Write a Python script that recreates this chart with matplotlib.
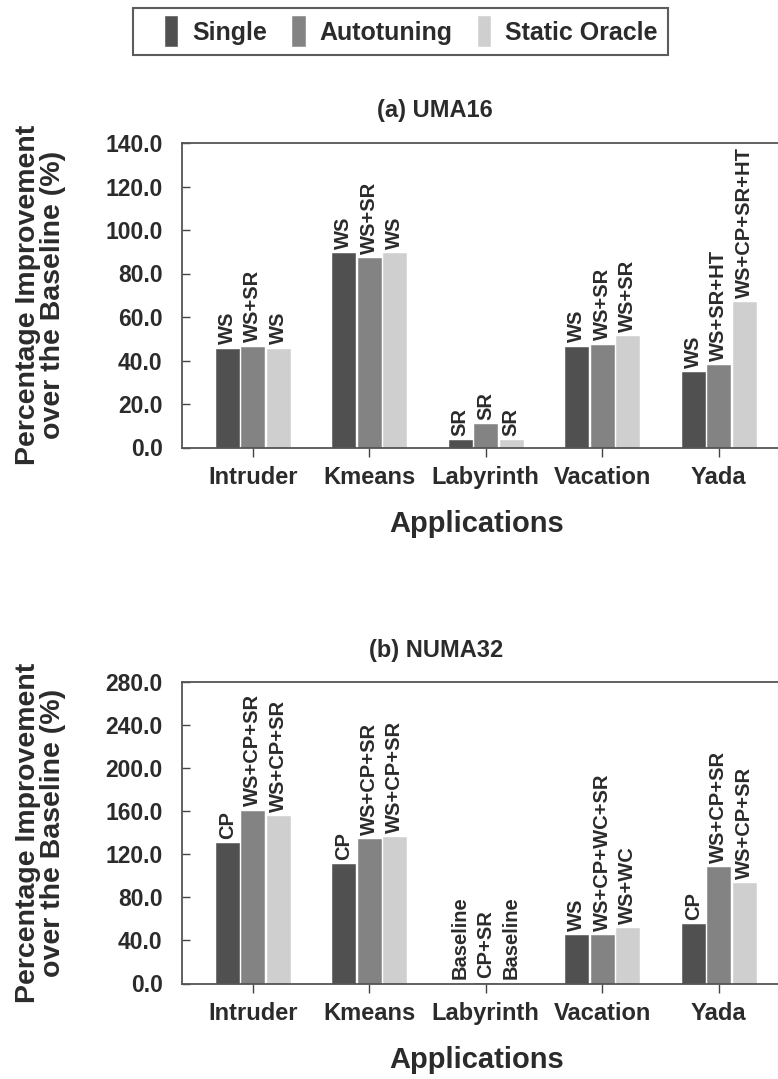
import matplotlib
matplotlib.use("Agg")
import matplotlib.pyplot as plt
from matplotlib.patches import Rectangle
from matplotlib.legend_handler import HandlerPatch
import numpy as np

apps = ["Intruder", "Kmeans", "Labyrinth", "Vacation", "Yada"]
series = ["Single", "Autotuning", "Static Oracle"]

# (a) UMA16
uma_single = [45.5, 89.2, 3.5, 46.4, 34.8]
uma_auto = [46.4, 87.2, 10.6, 47.3, 37.8]
uma_static = [45.5, 89.2, 3.5, 51.4, 66.8]
uma_single_lbl = ["WS", "WS", "SR", "WS", "WS"]
uma_auto_lbl = ["WS+SR", "WS+SR", "SR", "WS+SR", "WS+SR+HT"]
uma_static_lbl = ["WS", "WS", "SR", "WS+SR", "WS+CP+SR+HT"]

# (b) NUMA32
numa_single = [130.7, 110.7, 0.0, 45.3, 55.5]
numa_auto = [160.6, 133.8, 0.8, 45.3, 108.5]
numa_static = [155.4, 135.7, 0.0, 51.8, 93.1]
numa_single_lbl = ["CP", "CP", "Baseline", "WS", "CP"]
numa_auto_lbl = ["WS+CP+SR", "WS+CP+SR", "CP+SR", "WS+CP+WC+SR", "WS+CP+SR"]
numa_static_lbl = ["WS+CP+SR", "WS+CP+SR", "Baseline", "WS+WC", "WS+CP+SR"]

uma_ticks = [0, 20, 40, 60, 80, 100, 120, 140]
numa_ticks = [0, 40, 80, 120, 160, 200, 240, 280]

colors = ["#505050", "#838383", "#cfcfcf"]
txt = "#2b2b2b"
plt.rcParams["font.family"] = ["Liberation Sans", "DejaVu Sans"]
plt.rcParams["font.weight"] = "bold"
plt.rcParams["text.color"] = txt

W, H = 778, 1079
fig = plt.figure(figsize=(W / 100, H / 100), dpi=100)

x = np.arange(len(apps))
bw = 0.197
off = 0.219
xl = (-0.607, 4.607)
unit = 116.5            # pixels per category
ax_left = 182
ax_wpx = (xl[1] - xl[0]) * unit


def panel(top, bottom, vals, lbls, ticks, title, title_xy):
    ax = fig.add_axes([ax_left / W, 1 - bottom / H, ax_wpx / W, (bottom - top) / H])
    bars = []
    for i, (v, l) in enumerate(zip(vals, lbls)):
        b = ax.bar(x + (i - 1) * off, v, bw, color=colors[i], edgecolor=colors[i],
                   linewidth=0.4, label=series[i])
        bars.append(b)
        for xi, vi, li in zip(x + (i - 1) * off, v, l):
            ax.annotate(li, (xi, vi), xytext=(0, 3), textcoords="offset points",
                        rotation=90, ha="center", va="bottom", fontsize=14.5,
                        fontweight="bold", color=txt)
    ax.set_xlim(*xl)
    ax.set_ylim(0, ticks[-1])
    ax.set_yticks(ticks)
    ax.set_yticklabels([f"{t:.1f}" for t in ticks], fontsize=16.5, fontweight="bold")
    ax.set_xticks(x)
    ax.set_xticklabels(apps, fontsize=17, fontweight="bold")
    ax.tick_params(axis="y", direction="in", length=6, width=1, pad=14, colors="#444444",
                   labelcolor=txt)
    ax.tick_params(axis="x", direction="out", length=6.5, width=1, pad=7, colors="#444444",
                   labelcolor=txt)
    for s in ax.spines.values():
        s.set_color("#555555")
        s.set_linewidth(1.3)
    ax.spines["right"].set_visible(False)
    hpx = bottom - top
    ax.set_xlabel("Applications", fontsize=21, fontweight="bold", color=txt)
    ax.xaxis.set_label_coords((477 - ax_left) / ax_wpx, -63 / hpx)
    ax.set_ylabel("Percentage Improvement\nover the Baseline (%)", fontsize=20.5,
                  fontweight="bold", linespacing=0.95, color=txt)
    ax.yaxis.set_label_coords((66 - ax_left) / ax_wpx, 0.5)
    fig.text(title_xy[0] / W, 1 - title_xy[1] / H, title, ha="center", va="center",
             fontsize=17, fontweight="bold", color=txt)
    return ax, bars


ax1, bars = panel(143, 447.5,
                  [uma_single, uma_auto, uma_static],
                  [uma_single_lbl, uma_auto_lbl, uma_static_lbl],
                  uma_ticks, "(a) UMA16", (435, 110))
ax2, _ = panel(682, 983.5,
               [numa_single, numa_auto, numa_static],
               [numa_single_lbl, numa_auto_lbl, numa_static_lbl],
               numa_ticks, "(b) NUMA32", (436, 650))


def narrow_patch(legend, orig_handle, xdescent, ydescent, width, height, fontsize):
    pw = 0.5 * fontsize
    ph = 1.2 * fontsize
    return Rectangle((width - pw - xdescent, height / 2 - ph / 2 - ydescent), pw, ph)


leg = fig.legend(handles=[b.patches[0] for b in bars], labels=series, loc="center",
                 ncol=3, bbox_to_anchor=(400.5 / W, 1 - 31.7 / H),
                 prop={"weight": "bold", "size": 18},
                 frameon=True, fancybox=False, handlelength=1.35, handleheight=1.2,
                 handletextpad=0.6, columnspacing=0.15, borderpad=0.42,
                 handler_map={Rectangle: HandlerPatch(patch_func=narrow_patch)})
leg.get_frame().set_edgecolor("#333333")
leg.get_frame().set_linewidth(1.5)
for t in leg.get_texts():
    t.set_color(txt)

fig.savefig("out.png", dpi=100)
